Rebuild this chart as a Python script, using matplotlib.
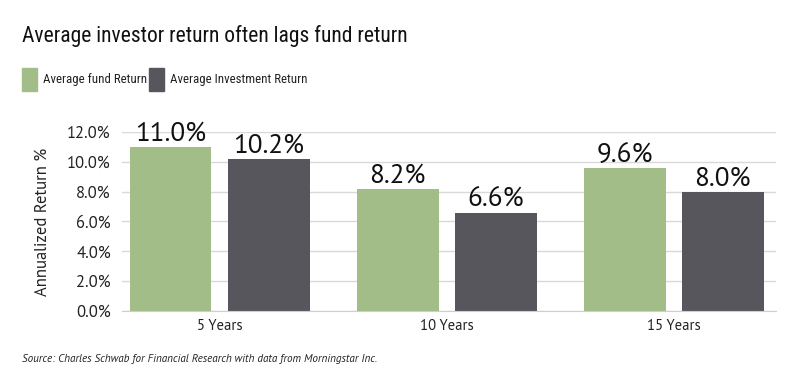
import numpy as np
import matplotlib
matplotlib.use("Agg")
import matplotlib.pyplot as plt
from matplotlib.patches import Rectangle

COND = ['Roboto Condensed', 'Fira Sans Condensed', 'Archivo Narrow', 'Liberation Sans', 'DejaVu Sans']
REG = ['PT Sans', 'Source Sans 3', 'Source Sans Pro', 'Liberation Sans', 'DejaVu Sans']
plt.rcParams['font.family'] = REG

categories = ["5 Years", "10 Years", "15 Years"]
fund_return = [11.0, 8.2, 9.6]
investor_return = [10.2, 6.6, 8.0]
series_names = ["Average fund Return", "Average Investment Return"]
yticks = [0, 2, 4, 6, 8, 10, 12]

GREEN = "#a2bd87"
DARK = "#57565c"

fig = plt.figure(figsize=(8, 3.87), dpi=100)
ax = fig.add_axes([0.1525, 0.1964, 0.8175, 0.4626])

x = np.arange(len(categories))
w = 0.36
off = 0.216
b1 = ax.bar(x - off, fund_return, w, color=GREEN, zorder=2)
b2 = ax.bar(x + off, investor_return, w, color=DARK, zorder=2)

# value labels above bars
for bars, vals in ((b1, fund_return), (b2, investor_return)):
    for r, v in zip(bars, vals):
        ax.text(r.get_x() + r.get_width() / 2, v + 0.05, f"{v:.1f}%",
                ha="center", va="bottom", fontsize=19.5, color="#111111",
                clip_on=False)

ax.set_xlim(-0.43, 2.45)
ax.set_ylim(0, 12)
ax.set_yticks(yticks)
ax.set_yticklabels([f"{t:.1f}%" for t in yticks], fontsize=12, color="#222222")
ax.set_xticks(x)
ax.set_xticklabels(categories, fontsize=10.5, color="#222222")
ax.tick_params(axis="y", length=0, pad=8)
ax.tick_params(axis="x", length=0, pad=6)
ax.yaxis.grid(True, color="#d9d9d9", linewidth=1, zorder=0)
ax.set_axisbelow(True)
for s in ["top", "right", "left"]:
    ax.spines[s].set_visible(False)
ax.spines["bottom"].set_color("#cfcfcf")
ax.set_ylabel("Annualized Return %", fontsize=12, color="#222222", labelpad=12)

fig.text(0.027, 1 - 36 / 387, "Average investor return often lags fund return",
         fontsize=15.5, color="#111111", va="center", ha="left", family=COND)

# legend, drawn by hand to match the flat layout
for name, col, lx in zip(series_names, [GREEN, DARK], [22, 149]):
    fig.patches.append(Rectangle((lx / 800, 1 - 91 / 387), 15 / 800, 23 / 387,
                                 transform=fig.transFigure, color=col))
    fig.text((lx + 21) / 800, 1 - 80 / 387, name, fontsize=9.3,
             color="#222222", va="center", ha="left", family=COND)

fig.text(0.027, 1 - 359 / 387,
         "Source: Charles Schwab for Financial Research with data from Morningstar Inc.",
         fontsize=8, style="italic", color="#222222", va="center", ha="left")

fig.savefig("out.png", dpi=100)
